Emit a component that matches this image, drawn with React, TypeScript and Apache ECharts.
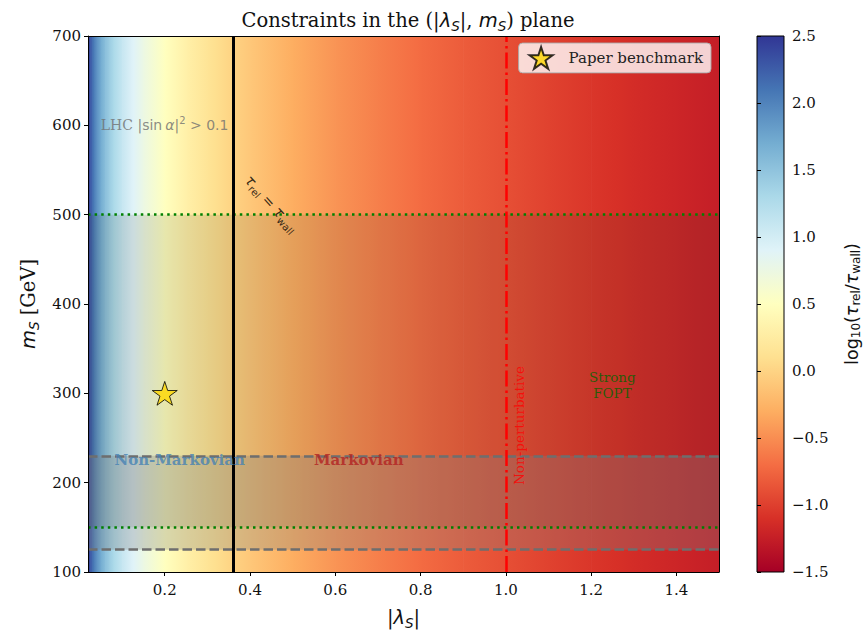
import React, { useEffect, useRef } from "react";
import * as echarts from "echarts";

// ---- data ----
const lambdaSamples = [0.02, 0.025, 0.03, 0.035, 0.04, 0.05, 0.06, 0.07, 0.08, 0.1, 0.12, 0.15, 0.2, 0.25, 0.3, 0.355, 0.4, 0.5, 0.6, 0.7, 0.8, 0.9, 1.0, 1.1, 1.2, 1.3, 1.4, 1.5];
const logTauRatio = [2.5, 2.3, 2.15, 2.01, 1.9, 1.7, 1.54, 1.41, 1.29, 1.1, 0.94, 0.75, 0.5, 0.3, 0.15, 0.0, -0.1, -0.3, -0.46, -0.59, -0.71, -0.81, -0.9, -0.98, -1.06, -1.13, -1.19, -1.25];
const lambdaRange = [0.02, 1.5];
const massRange = [100, 700];
const xTickValues = [0.2, 0.4, 0.6, 0.8, 1.0, 1.2, 1.4];
const colorRange = [-1.5, 2.5];
// RdYlBu, low -> high
const rdylbu = ["#a50026", "#d73027", "#f46d43", "#fdae61", "#fee090", "#ffffbf", "#e0f3f8", "#abd9e9", "#74add1", "#4575b4", "#313695"];
const tauEqualLambda = 0.356;
const nonPerturbativeLambda = 1.0;
const strongFoptMass = [150, 500];
const markovBandMass = [125, 230];
const benchmarkPoint = [0.2, 300];
const benchmarkName = "Paper benchmark";
const lhcLabelAt = [0.05, 600];
const tauLabelAt = [0.45, 512];
const nonMarkovLabelAt = [0.235, 225];
const markovLabelAt = [0.655, 225];
const nonPertLabelAt = [1.03, 264];
const foptLabelAt = [1.25, 309];

const SERIF = "DejaVu Serif";
const SANS = "DejaVu Sans";
const starPath =
  "path://M0,-1 L0.2245,-0.309 L0.951,-0.309 L0.363,0.118 L0.588,0.809 L0,0.382 L-0.588,0.809 L-0.363,0.118 L-0.951,-0.309 L-0.2245,-0.309 Z";

function hexToRgb(h: string) {
  return [parseInt(h.slice(1, 3), 16), parseInt(h.slice(3, 5), 16), parseInt(h.slice(5, 7), 16)];
}
function cmap(v: number) {
  const n = rdylbu.length - 1;
  let t = ((v - colorRange[0]) / (colorRange[1] - colorRange[0])) * n;
  t = Math.max(0, Math.min(n, t));
  const i = Math.min(n - 1, Math.floor(t));
  const f = t - i;
  const a = hexToRgb(rdylbu[i]);
  const b = hexToRgb(rdylbu[i + 1]);
  const c = a.map((x, k) => Math.round(x + (b[k] - x) * f));
  return `rgb(${c[0]},${c[1]},${c[2]})`;
}
function segmentStops(v0: number, v1: number) {
  const stops: { offset: number; color: string }[] = [{ offset: 0, color: cmap(v0) }];
  const n = rdylbu.length - 1;
  const step = (colorRange[1] - colorRange[0]) / n;
  for (let k = 1; k < n; k++) {
    const sv = colorRange[0] + k * step;
    if ((sv - v0) * (sv - v1) < 0) stops.push({ offset: (sv - v0) / (v1 - v0), color: cmap(sv) });
  }
  stops.push({ offset: 1, color: cmap(v1) });
  stops.sort((a, b) => a.offset - b.offset);
  return stops;
}

const segments = lambdaSamples.slice(0, -1).map((x, i) => [x, lambdaSamples[i + 1], logTauRatio[i], logTauRatio[i + 1]]);
const bandData = [strongFoptMass, markovBandMass];
const bandFills = ["rgba(60,60,40,0.12)", "rgba(128,128,128,0.3)"];

const fmtNum = (v: number) => (v < 0 ? "\u2212" + Math.abs(v).toFixed(1) : v.toFixed(1));

function label(text: string, extra: any) {
  return { show: true, position: "inside", formatter: text, ...extra };
}

export default function App() {
  const ref = useRef<HTMLDivElement>(null);
  useEffect(() => {
    if (!ref.current) return;
    const chart = echarts.init(ref.current, null, { renderer: "svg" });
    const axisFont = { fontFamily: SERIF, fontSize: 15, color: "#111" };
    const mathRich = (size: number, sub: number, lh: number) => ({
      n: { fontFamily: SERIF, fontSize: size, fontWeight: "normal", color: "#111", lineHeight: lh },
      m: { fontFamily: SANS, fontStyle: "italic", fontWeight: "normal", fontSize: size, color: "#111", lineHeight: lh },
      s: { fontFamily: SANS, fontStyle: "italic", fontWeight: "normal", fontSize: sub, color: "#111", verticalAlign: "bottom", lineHeight: sub + 2 },
    });
    const option: any = {
      animation: false,
      backgroundColor: "#fff",
      title: {
        text: "{n|Constraints in the (|}{m|λ}{s|S}{n||, }{m|m}{s|S}{n|) plane}",
        left: 403,
        top: 2,
        textAlign: "center",
        textStyle: { fontWeight: "normal", rich: mathRich(19.5, 13.5, 26) },
      },
      legend: {
        data: [{ name: benchmarkName, icon: starPath }],
        right: 157,
        top: 43,
        backgroundColor: "rgba(255,255,255,0.8)",
        borderColor: "rgba(170,170,170,0.9)",
        borderWidth: 1,
        borderRadius: 4,
        padding: [3, 8, 3, 10],
        itemWidth: 23,
        itemHeight: 22,
        textStyle: { fontFamily: SERIF, fontSize: 15, color: "#222", padding: [0, 0, 0, 11] },
      },
      grid: [
        { left: 88, top: 36, width: 631, height: 536, outerBoundsMode: "none", containLabel: false },
        { left: 757, top: 36, width: 27, height: 536, outerBoundsMode: "none", containLabel: false },
      ],
      xAxis: [
        {
          type: "value",
          gridIndex: 0,
          min: lambdaRange[0],
          max: lambdaRange[1],
          z: 10,
          splitLine: { show: false },
          axisLine: { show: true, onZero: false, lineStyle: { color: "#000", width: 1 } },
          axisTick: { show: true, length: 4, lineStyle: { color: "#000" }, customValues: xTickValues },
          axisLabel: { ...axisFont, margin: 10, customValues: xTickValues, formatter: (v: number) => v.toFixed(1) },
          name: "{n||}{m|λ}{s|S}{n||}",
          nameLocation: "middle",
          nameGap: 32,
          nameTextStyle: { rich: mathRich(19.5, 13.5, 26) },
        },
        {
          type: "value",
          gridIndex: 0,
          position: "top",
          min: lambdaRange[0],
          max: lambdaRange[1],
          z: 10,
          splitLine: { show: false },
          axisLine: { show: true, onZero: false, lineStyle: { color: "#000", width: 1 } },
          axisTick: { show: false },
          axisLabel: { show: false },
        },
        { type: "value", gridIndex: 1, min: 0, max: 1, show: false },
      ],
      yAxis: [
        {
          type: "value",
          gridIndex: 0,
          min: massRange[0],
          max: massRange[1],
          interval: 100,
          z: 10,
          splitLine: { show: false },
          axisLine: { show: true, onZero: false, lineStyle: { color: "#000", width: 1 } },
          axisTick: { show: true, length: 4, lineStyle: { color: "#000" } },
          axisLabel: { ...axisFont, margin: 7 },
          name: "{m|m}{s|S}{n| [GeV]}",
          nameLocation: "middle",
          nameRotate: 90,
          nameGap: 26,
          nameTextStyle: { rich: mathRich(19.5, 13.5, 26) },
        },
        {
          type: "value",
          gridIndex: 0,
          position: "right",
          min: massRange[0],
          max: massRange[1],
          z: 10,
          splitLine: { show: false },
          axisLine: { show: true, onZero: false, lineStyle: { color: "#000", width: 1 } },
          axisTick: { show: false },
          axisLabel: { show: false },
        },
        {
          type: "value",
          gridIndex: 1,
          position: "right",
          min: colorRange[0],
          max: colorRange[1],
          interval: 0.5,
          z: 10,
          splitLine: { show: false },
          axisLine: { show: false },
          axisTick: { show: true, length: 4, lineStyle: { color: "#000" } },
          axisLabel: { ...axisFont, margin: 8, formatter: fmtNum },
          name: "{n|log}{s|10}{n|(}{m|τ}{s|rel}{n|/}{m|τ}{s|wall}{n|)}",
          nameLocation: "middle",
          nameRotate: 90,
          nameGap: 58,
          nameTextStyle: {
            rich: {
              n: { fontFamily: SANS, fontSize: 17.5, color: "#111", lineHeight: 20 },
              m: { fontFamily: SANS, fontStyle: "italic", fontSize: 17.5, color: "#111", lineHeight: 20 },
              s: { fontFamily: SANS, fontSize: 12, color: "#111", verticalAlign: "bottom", lineHeight: 12 },
            },
          },
        },
      ],
      series: [
        {
          type: "custom",
          name: "background",
          xAxisIndex: 0,
          yAxisIndex: 0,
          clip: true,
          silent: true,
          z: 1,
          encode: { x: [0, 1] },
          data: segments,
          renderItem: (params: any, api: any) => {
            const p0 = api.coord([api.value(0), massRange[1]]);
            const p1 = api.coord([api.value(1), massRange[0]]);
            return {
              type: "rect",
              shape: { x: p0[0], y: p0[1], width: p1[0] - p0[0] + 0.7, height: p1[1] - p0[1] },
              style: { fill: new echarts.graphic.LinearGradient(0, 0, 1, 0, segmentStops(api.value(2), api.value(3))) },
            };
          },
        },
        {
          type: "custom",
          name: "bands",
          xAxisIndex: 0,
          yAxisIndex: 0,
          clip: true,
          silent: true,
          z: 2,
          encode: { y: [0, 1] },
          data: bandData,
          renderItem: (params: any, api: any) => {
            const p0 = api.coord([lambdaRange[0], api.value(1)]);
            const p1 = api.coord([lambdaRange[1], api.value(0)]);
            return {
              type: "rect",
              shape: { x: p0[0], y: p0[1], width: p1[0] - p0[0], height: p1[1] - p0[1] },
              style: { fill: bandFills[params.dataIndex] },
            };
          },
        },
        {
          type: "custom",
          name: "colorbar",
          xAxisIndex: 2,
          yAxisIndex: 2,
          silent: true,
          z: 1,
          data: [[0, 1, colorRange[0], colorRange[1]]],
          renderItem: (params: any, api: any) => {
            const p0 = api.coord([api.value(0), api.value(3)]);
            const p1 = api.coord([api.value(1), api.value(2)]);
            const stops = rdylbu
              .slice()
              .reverse()
              .map((c, i) => ({ offset: i / (rdylbu.length - 1), color: c }));
            return {
              type: "rect",
              shape: { x: p0[0], y: p0[1], width: p1[0] - p0[0], height: p1[1] - p0[1] },
              style: { fill: new echarts.graphic.LinearGradient(0, 0, 0, 1, stops), stroke: "#000", lineWidth: 1 },
            };
          },
        },
        {
          type: "line",
          name: "lines",
          xAxisIndex: 0,
          yAxisIndex: 0,
          data: [],
          z: 3,
          silent: true,
          markLine: {
            silent: true,
            symbol: ["none", "none"],
            label: { show: false },
            data: [
              { yAxis: strongFoptMass[1], lineStyle: { color: "#008000", width: 2.5, type: [2.5, 4.1] } },
              { yAxis: strongFoptMass[0], lineStyle: { color: "#008000", width: 2.5, type: [2.5, 4.1] } },
              { yAxis: markovBandMass[1], lineStyle: { color: "#6e6e6e", width: 2.5, type: [9.5, 4] } },
              { yAxis: markovBandMass[0], lineStyle: { color: "#6e6e6e", width: 2.5, type: [9.5, 4] } },
              { xAxis: tauEqualLambda, lineStyle: { color: "#000", width: 3, type: "solid" } },
              { xAxis: nonPerturbativeLambda, lineStyle: { color: "#ff0000", width: 2.5, type: [16, 4, 2.5, 4] } },
            ],
          },
        },
        {
          type: "scatter",
          name: benchmarkName,
          xAxisIndex: 0,
          yAxisIndex: 0,
          z: 5,
          symbol: starPath,
          symbolKeepAspect: true,
          symbolSize: 25,
          itemStyle: { color: "#FFD700", borderColor: "#000", borderWidth: 1 },
          data: [benchmarkPoint],
        },
        {
          type: "scatter",
          name: "annotations",
          xAxisIndex: 0,
          yAxisIndex: 0,
          z: 6,
          silent: true,
          symbolSize: 0,
          data: [
            {
              value: lhcLabelAt,
              label: label("{n|LHC }{k||sin}{m|α}{k||}{p|2}{k| > 0.1}", {
                position: [0, 0],
                align: "left",
                verticalAlign: "middle",
                rich: {
                  n: { fontFamily: SERIF, fontSize: 14, color: "#6f6f6f", lineHeight: 20 },
                  k: { fontFamily: SANS, fontSize: 14, color: "#6f6f6f", lineHeight: 20 },
                  m: { fontFamily: SANS, fontStyle: "italic", fontSize: 14, color: "#6f6f6f", lineHeight: 20, padding: [0, 0, 0, 3] },
                  p: { fontFamily: SANS, fontSize: 10, color: "#6f6f6f", verticalAlign: "top", lineHeight: 12 },
                },
              }),
            },
            {
              value: tauLabelAt,
              label: label("{m|τ}{s|rel}{n| = }{m|τ}{s|wall}", {
                rotate: -48,
                rich: {
                  n: { fontFamily: SANS, fontSize: 14, color: "#000", lineHeight: 19 },
                  m: { fontFamily: SANS, fontStyle: "italic", fontSize: 15, color: "#000", lineHeight: 19 },
                  s: { fontFamily: SANS, fontSize: 10, color: "#000", verticalAlign: "bottom", lineHeight: 11 },
                },
              }),
            },
            {
              value: nonMarkovLabelAt,
              label: label("Non-Markovian", { fontFamily: SERIF, fontSize: 15, fontWeight: "bold", color: "#4682B4" }),
            },
            {
              value: markovLabelAt,
              label: label("Markovian", { fontFamily: SERIF, fontSize: 15, fontWeight: "bold", color: "#B22222" }),
            },
            {
              value: nonPertLabelAt,
              label: label("Non-perturbative", { rotate: 90, fontFamily: SERIF, fontSize: 13.5, color: "#ff0000" }),
            },
            {
              value: foptLabelAt,
              label: label("Strong\nFOPT", {
                fontFamily: SERIF,
                fontSize: 13.5,
                lineHeight: 16,
                align: "center",
                color: "#006400",
              }),
            },
          ],
        },
      ],
    };
    chart.setOption(option);
    return () => chart.dispose();
  }, []);
  return <div ref={ref} style={{ position: "fixed", left: 0, top: 0, width: 868, height: 631 }} />;
}
